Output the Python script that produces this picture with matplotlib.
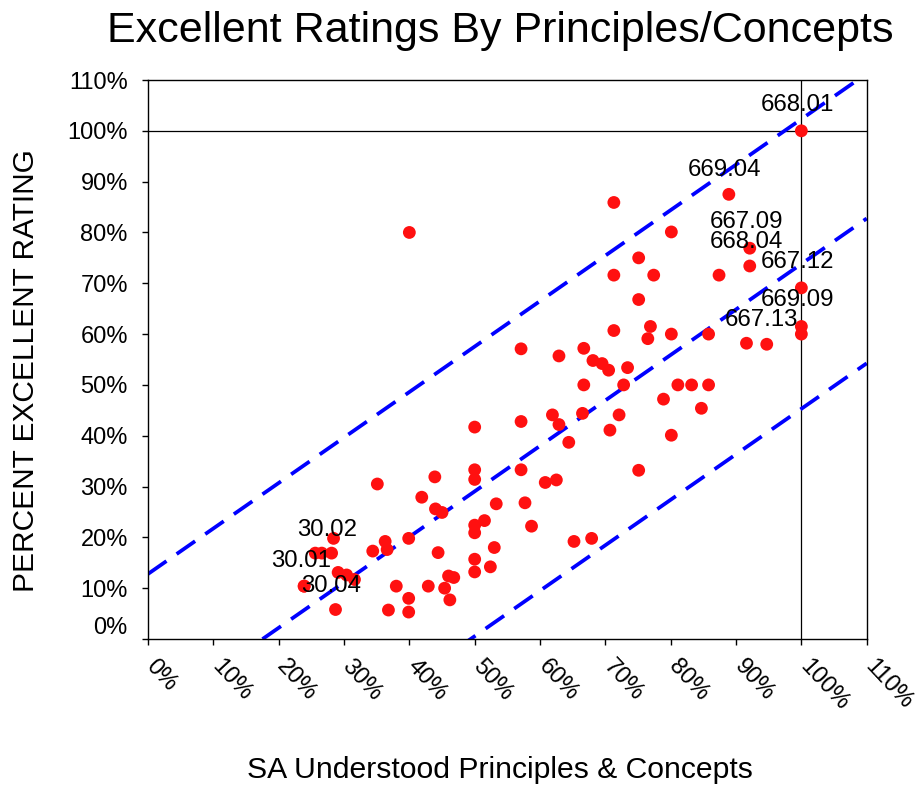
import matplotlib
matplotlib.use("Agg")
import matplotlib.pyplot as plt
import matplotlib.transforms as mtransforms
import numpy as np

plt.rcParams['font.family'] = ['Liberation Sans', 'DejaVu Sans']

# ---- data (percent values) ----
x_understood = [40, 57.1, 100, 88.9, 71.3, 80.1, 92.1, 92.1, 75.1, 71.3,
                77.4, 87.4, 100, 75.1, 100, 100, 71.3, 76.9, 76.5, 80.1,
                85.8, 91.6, 94.7, 62.9, 66.7,
                68.1, 69.5, 70.5, 73.4, 66.7, 72.8, 81.1, 83.2, 85.8, 78.9,
                84.7, 57.1, 61.9, 62.9, 66.5, 72.1, 64.4, 70.7, 80.1, 57.1,
                75.1, 60.8, 62.5, 57.7, 58.7, 65.2, 67.9,
                50.0, 50.0, 50.0, 43.9, 35.1, 41.9, 53.3, 44.0, 45.0, 51.5,
                50.0, 50.0, 28.4, 39.9, 36.3, 36.6, 34.4, 44.4, 25.6, 26.6,
                28.1, 53.0, 50.0, 52.4, 50.0, 29.1, 30.4, 31.6, 23.9, 38.0,
                42.9, 46.0, 46.8, 45.4, 46.2, 39.9, 39.9, 36.8, 28.7, 23.9]
y_excellent = [80, 57.1, 100, 87.5, 85.9, 80.1, 76.9, 73.4, 75.0, 71.6,
               71.6, 71.6, 69.1, 66.8, 61.5, 60.0, 60.7, 61.5, 59.1, 60.0,
               60.0, 58.2, 58.0, 55.7, 57.2,
               54.8, 54.2, 52.9, 53.4, 50.0, 50.0, 50.0, 50.0, 50.0, 47.2,
               45.4, 42.8, 44.1, 42.2, 44.4, 44.1, 38.7, 41.1, 40.1, 33.3,
               33.2, 30.8, 31.3, 26.8, 22.2, 19.2, 19.8,
               41.7, 33.3, 31.4, 31.9, 30.5, 27.9, 26.6, 25.6, 24.9, 23.3,
               22.4, 20.9, 19.8, 19.8, 19.2, 17.6, 17.3, 17.0, 16.9, 16.9,
               16.9, 18.0, 15.7, 14.2, 13.2, 13.1, 12.6, 11.7, 10.4, 10.4,
               10.4, 12.4, 12.1, 10.0, 7.7, 8.0, 5.3, 5.7, 5.8, 10.4]

# labelled points: (label, x, y)
label_names = ["668.01", "669.04", "667.09", "668.04", "667.12", "669.09",
               "667.13", "30.02", "30.01", "30.04"]
label_x = [100, 88.9, 92.1, 92.1, 100, 100, 91.6, 28.1, 23.9, 23.9]
label_y = [100, 87.5, 76.9, 73.4, 69.1, 61.5, 58.2, 16.9, 10.4, 10.4]

# trend line and prediction band (percent)
trend_slope = 0.895
trend_intercept = -15.7
band_halfwidth = 28.5

x_ticks = [0, 10, 20, 30, 40, 50, 60, 70, 80, 90, 100, 110]
y_ticks = [0, 10, 20, 30, 40, 50, 60, 70, 80, 90, 100, 110]
tick_labels_x = [f"{v}%" for v in x_ticks]
tick_labels_y = [f"{v}%" for v in y_ticks]

# ---- figure ----
W, H = 921, 787
fig = plt.figure(figsize=(W / 100, H / 100), dpi=100)
left, right, top, bottom = 148, 866.7, 80, 639
ax = fig.add_axes([left / W, 1 - bottom / H, (right - left) / W, (bottom - top) / H])

xs = np.array(x_understood) / 100
ys = np.array(y_excellent) / 100

# trend + band lines
xl = np.linspace(0, 1.1, 200)
for off in (band_halfwidth, 0, -band_halfwidth):
    ax.plot(xl, (trend_slope * xl * 100 + trend_intercept + off) / 100,
            color='#0000FF', lw=2.7, dashes=(6, 3.3), solid_capstyle='butt',
            dash_capstyle='butt', zorder=2)

# reference lines at 100%
ax.axvline(1.0, color='black', lw=0.9, zorder=1)
ax.axhline(1.0, color='black', lw=0.9, zorder=1)

ax.scatter(xs, ys, s=85, color='#FF1010', edgecolors='none', zorder=3)

# data labels
label_offsets = [(-4, 26), (-4, 24), (-3, 26), (-3, 24), (-4, 26), (-4, 26),
                 (15, 23), (-4, 23), (-3, 25), (27, 0)]
for name, lx, ly, (dx, dy) in zip(label_names, label_x, label_y, label_offsets):
    ax.annotate(name, (lx / 100, ly / 100), xytext=(dx * 0.72, dy * 0.72),
                textcoords='offset points', ha='center', va='center',
                fontsize=17.3, color='black', zorder=4)

ax.set_xlim(0, 1.1)
ax.set_ylim(0, 1.1)
ax.set_xticks(np.array(x_ticks) / 100)
ax.set_yticks(np.array(y_ticks) / 100)
ax.set_xticklabels([])
ax.set_yticklabels(tick_labels_y, fontsize=17)
ax.tick_params(axis='y', direction='out', length=4.5, width=1, pad=10)
ax.tick_params(axis='x', direction='out', length=4.5, width=1)
for sp in ax.spines.values():
    sp.set_linewidth(1.0)
    sp.set_color('black')

# lift the 0% label like the original
ylabs = ax.get_yticklabels()
ylabs[0].set_va('bottom')

# rotated x tick labels
blend = mtransforms.blended_transform_factory(ax.transData, ax.transAxes)
shift = mtransforms.ScaledTranslation(10 / 100, -16 / 100, fig.dpi_scale_trans)
for v, lab in zip(x_ticks, tick_labels_x):
    ax.text(v / 100, 0, lab, transform=blend + shift, rotation=-47,
            rotation_mode='anchor', ha='left', va='top', fontsize=17,
            clip_on=False)

# axis titles
ax.text(-0.17, 0.481, "PERCENT EXCELLENT RATING", transform=ax.transAxes,
        rotation=90, ha='center', va='center', fontsize=21.5)
fig.text(500 / W, 1 - 770 / H, "SA Understood Principles & Concepts",
         ha='center', va='center', fontsize=21.7)
fig.text(500 / W, 1 - 42 / H, "Excellent Ratings By Principles/Concepts",
         ha='center', va='baseline', fontsize=31)

fig.savefig("out.png", dpi=100)
